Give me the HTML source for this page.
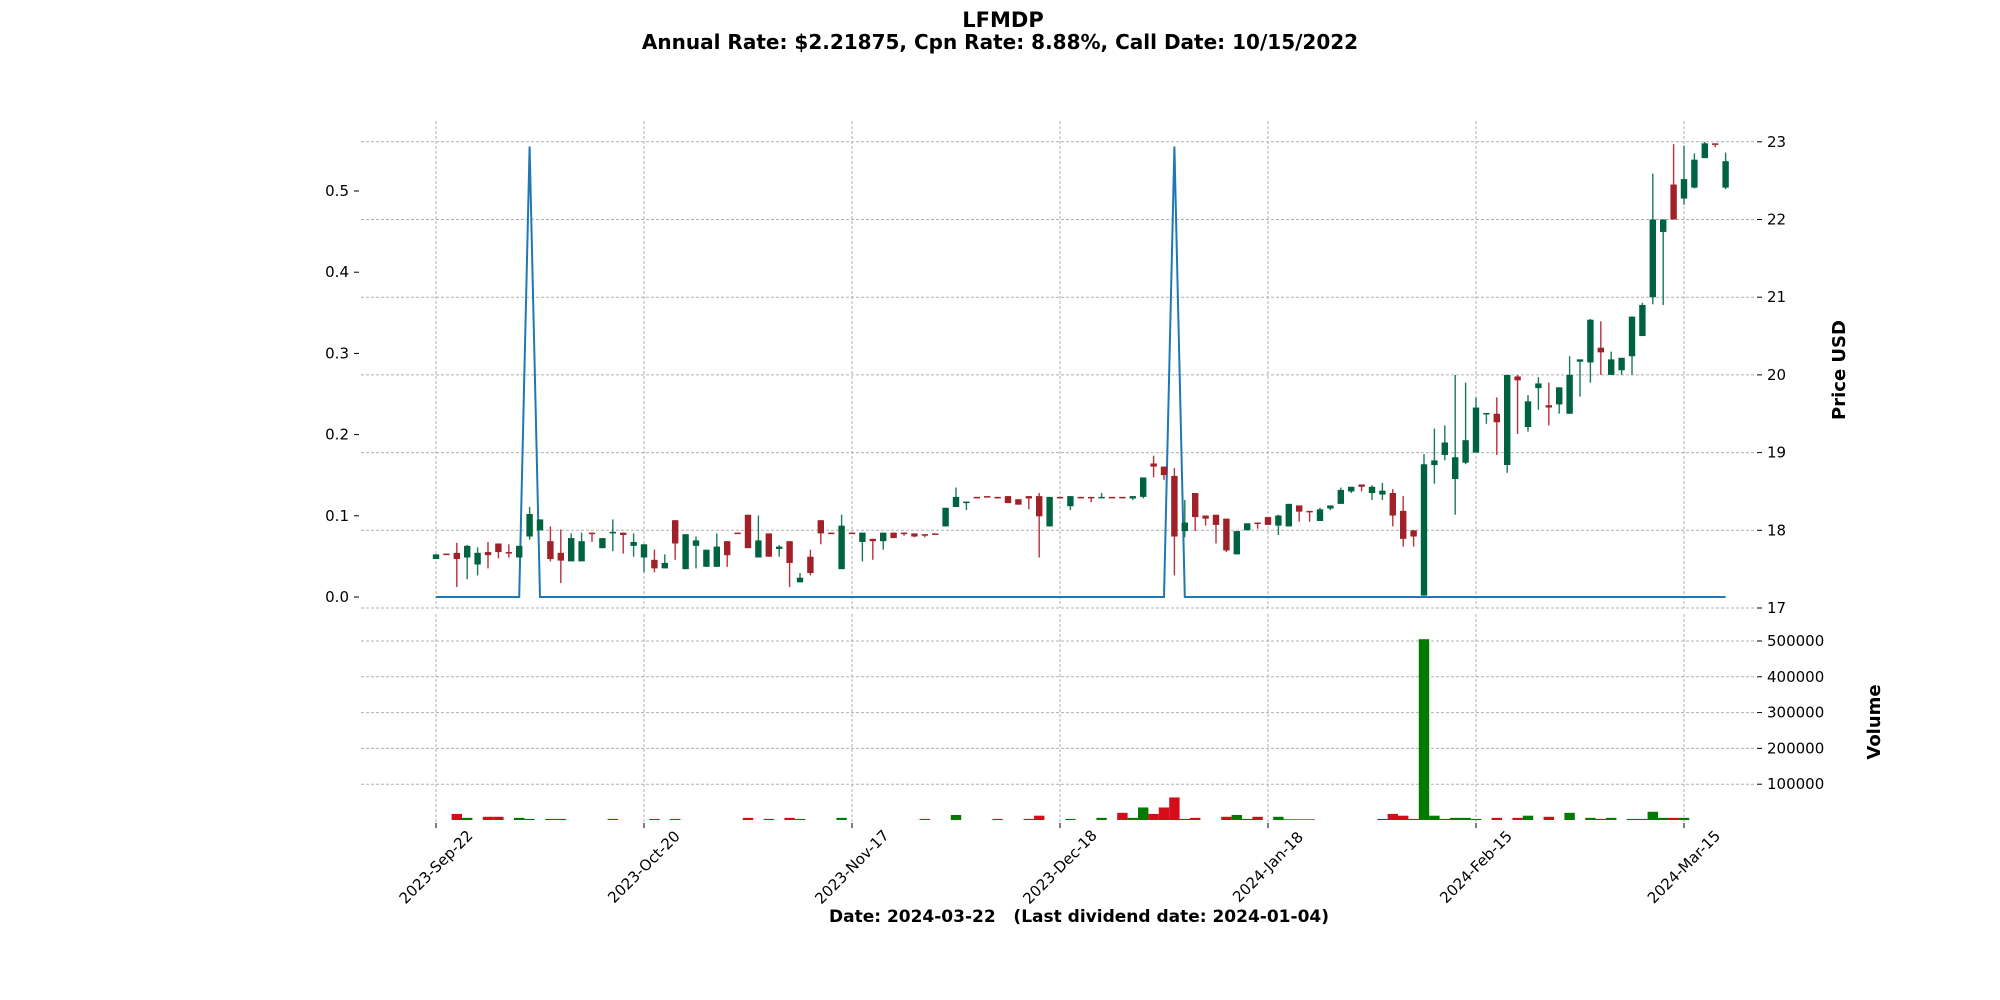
<!DOCTYPE html>
<html><head><meta charset="utf-8"><title>LFMDP</title>
<style>
html,body{margin:0;padding:0;background:#fff;}
svg{display:block;font-family:"DejaVu Sans","Liberation Sans",sans-serif;}
</style></head>
<body>
<svg id="chart" width="2000" height="1000" viewBox="0 0 2000 1000" xmlns="http://www.w3.org/2000/svg">
  <rect width="2000" height="1000" fill="#ffffff"/>
  <text x="1003" y="27" text-anchor="middle" font-size="21" font-weight="bold">LFMDP</text>
  <text x="1000" y="49" text-anchor="middle" font-size="20" font-weight="bold">Annual Rate: $2.21875, Cpn Rate: 8.88%, Call Date: 10/15/2022</text>
  <g id="grid"></g>
  <g id="divs"></g>
  <g id="candles"></g>
  <g id="vols"></g>
  <g id="axes"></g>
  <text transform="translate(1845,370) rotate(-90)" text-anchor="middle" font-size="18" font-weight="bold">Price USD</text>
  <text transform="translate(1880,722) rotate(-90)" text-anchor="middle" font-size="18" font-weight="bold">Volume</text>
  <text x="1079" y="922" text-anchor="middle" font-size="17" font-weight="bold" xml:space="preserve">Date: 2024-03-22   (Last dividend date: 2024-01-04)</text>
</svg>
<script>
const opens=[17.63,17.70,17.71,17.65,17.56,17.72,17.83,17.72,17.65,17.92,
18.00,17.86,17.71,17.60,17.60,17.97,17.77,17.96,17.97,17.80,
17.65,17.62,17.51,18.13,17.50,17.80,17.53,17.53,17.86,17.97,
18.20,17.65,17.96,17.76,17.86,17.33,17.66,18.13,17.97,17.50,
17.97,17.85,17.89,17.86,17.97,17.97,17.96,17.95,17.96,18.05,
18.30,18.35,18.43,18.44,18.43,18.44,18.40,18.44,18.44,18.05,
18.43,18.31,18.43,18.43,18.43,18.43,18.43,18.41,18.43,18.86,
18.82,18.70,17.99,18.48,18.19,18.20,18.15,17.69,18.00,18.10,
18.17,18.06,18.05,18.32,18.25,18.12,18.28,18.34,18.50,18.59,
18.48,18.46,18.48,18.25,18.00,17.16,18.84,18.97,18.66,18.87,
19.00,19.50,19.50,18.84,19.98,19.33,19.83,19.61,19.62,19.50,
20.17,20.16,20.35,20.00,20.06,20.24,20.50,21.00,21.84,22.45,
22.27,22.41,22.79,22.98,22.41];
const highs=[17.69,17.70,17.84,17.81,17.78,17.85,17.83,17.82,17.80,18.30,
18.14,18.05,18.01,17.96,17.97,17.97,17.90,18.14,17.97,17.96,
17.82,17.75,17.69,18.13,17.95,17.92,17.75,17.96,17.86,17.97,
18.20,18.19,17.96,17.81,17.86,17.45,17.75,18.13,17.97,18.20,
17.97,17.97,17.89,17.97,17.97,17.97,17.96,17.95,17.96,18.29,
18.55,18.37,18.43,18.44,18.43,18.44,18.40,18.44,18.48,18.43,
18.43,18.44,18.43,18.43,18.48,18.43,18.43,18.44,18.68,18.96,
18.82,18.80,18.39,18.48,18.19,18.20,18.15,17.99,18.09,18.10,
18.17,18.20,18.34,18.32,18.25,18.29,18.32,18.55,18.56,18.59,
18.58,18.61,18.53,18.44,18.00,18.98,19.31,19.35,20.00,19.90,
19.71,19.51,19.71,20.00,20.00,19.74,19.97,19.90,19.84,20.24,
20.20,20.72,20.69,20.30,20.22,20.75,20.93,22.59,22.00,22.97,
22.95,22.85,23.00,22.98,22.86];
const lows=[17.63,17.69,17.27,17.37,17.42,17.51,17.64,17.65,17.65,17.88,
18.00,17.60,17.32,17.60,17.60,17.85,17.77,17.73,17.70,17.66,
17.46,17.46,17.51,17.62,17.50,17.51,17.53,17.53,17.53,17.96,
17.77,17.65,17.66,17.66,17.27,17.33,17.42,17.82,17.96,17.50,
17.96,17.60,17.62,17.75,17.90,17.93,17.91,17.91,17.95,18.05,
18.30,18.26,18.42,18.43,18.41,18.35,18.33,18.27,17.65,18.05,
18.41,18.26,18.41,18.36,18.42,18.42,18.42,18.39,18.41,18.68,
18.65,17.42,17.91,17.99,18.06,17.83,17.72,17.69,18.00,18.02,
18.07,17.94,18.05,18.11,18.11,18.12,18.26,18.34,18.48,18.50,
18.39,18.39,18.05,17.79,17.79,17.16,18.60,18.90,18.20,18.85,
19.00,19.37,18.97,18.74,19.24,19.27,19.55,19.35,19.50,19.50,
19.72,19.90,20.00,20.00,20.00,20.00,20.50,20.91,20.90,22.00,
22.19,22.40,22.79,22.93,22.39];
const closes=[17.69,17.69,17.63,17.80,17.71,17.68,17.72,17.71,17.80,18.21,
18.14,17.63,17.61,17.90,17.86,17.96,17.90,17.98,17.94,17.85,
17.82,17.51,17.58,17.83,17.95,17.87,17.75,17.79,17.68,17.96,
17.77,17.87,17.66,17.79,17.58,17.39,17.45,17.96,17.96,18.06,
17.96,17.97,17.86,17.97,17.90,17.96,17.92,17.94,17.95,18.29,
18.43,18.37,18.42,18.43,18.42,18.35,18.33,18.41,18.18,18.43,
18.42,18.44,18.42,18.42,18.43,18.42,18.42,18.44,18.68,18.82,
18.71,17.92,18.10,18.17,18.15,18.07,17.74,17.99,18.09,18.09,
18.07,18.19,18.34,18.24,18.24,18.27,18.32,18.52,18.56,18.56,
18.56,18.51,18.19,17.89,17.92,18.85,18.90,19.13,18.94,19.16,
19.58,19.51,19.39,20.00,19.93,19.66,19.89,19.58,19.84,20.00,
20.20,20.71,20.29,20.20,20.22,20.75,20.90,22.00,22.00,22.00,
22.52,22.77,22.98,22.97,22.75];
const volumesK=[0,0,17,6,0,9,9,0,6,3,
0,3,3,0,0,0,0,3,0,0,
0,3,0,3,0,0,0,0,0,0,
6,0,3,0,6,3,0,0,0,6,
0,0,0,0,0,0,0,3,0,0,
14,0,0,0,3,0,0,3,12,0,
0,3,0,0,6,0,20,6,35,17,
35,63,3,6,0,0,9,14,3,9,
0,9,2,2,2,0,0,0,0,0,
0,3,17,12,3,505,12,3,6,6,
3,0,6,0,6,12,0,9,0,20,
0,6,3,6,0,3,3,23,6,6,
6,0,0,0,0];
const dividends=[0,0,0,0,0,0,0,0,0,0.5547,0,0,0,0,0,0,0,0,0,0,0,0,0,0,0,
0,0,0,0,0,0,0,0,0,0,0,0,0,0,0,0,0,0,0,0,0,0,0,0,0,
0,0,0,0,0,0,0,0,0,0,0,0,0,0,0,0,0,0,0,0,0,0.5547,0,0,0,
0,0,0,0,0,0,0,0,0,0,0,0,0,0,0,0,0,0,0,0,0,0,0,0,0,
0,0,0,0,0,0,0,0,0,0,0,0,0,0,0,0,0,0,0,0,0,0,0,0,0];
const dateTickIdx=[0,20,40,60,80,100,120];
const dateTickLabels=["2023-Sep-22","2023-Oct-20","2023-Nov-17","2023-Dec-18","2024-Jan-18","2024-Feb-15","2024-Mar-15"];
const priceTicks=[17,18,19,20,21,22,23];
const divTicks=[0.0,0.1,0.2,0.3,0.4,0.5];
const volTicks=[100000,200000,300000,400000,500000];

const NS="http://www.w3.org/2000/svg";
function xOf(i){return 436+i*10.4;}
function yP(p){return 608-(p-17)*77.7;}
function yD(d){return 597-d*812;}
function yV(v){return 820-v*0.000358;}
function mk(tag,attrs,parent){const e=document.createElementNS(NS,tag);for(const k in attrs)e.setAttribute(k,attrs[k]);parent.appendChild(e);return e;}
const grid=document.getElementById('grid'),axes=document.getElementById('axes');
const PL=361,PR=1756;
priceTicks.forEach(function(t){
  const y=yP(t);
  const l=mk('line',{x1:PL,x2:PR,y1:y,y2:y,stroke:'#b0b0b0','stroke-width':1,'stroke-dasharray':'3,2'},grid);
  
  
  const tk=mk('line',{x1:1757,x2:1762,y1:y,y2:y,stroke:'#000','stroke-width':1},axes);
  
  
  const tx=mk('text',{x:1767,y:y+5,'font-size':15},axes);tx.textContent=String(t);
  
  
});
volTicks.forEach(function(t){
  const y=yV(t);
  const l=mk('line',{x1:PL,x2:PR,y1:y,y2:y,stroke:'#b0b0b0','stroke-width':1,'stroke-dasharray':'3,2'},grid);
  
  
  const tk=mk('line',{x1:1757,x2:1762,y1:y,y2:y,stroke:'#000','stroke-width':1},axes);
  
  
  const tx=mk('text',{x:1767,y:y+5,'font-size':15},axes);tx.textContent=String(t);
  
  
});
divTicks.forEach(function(t){
  const y=yD(t);
  const tk=mk('line',{x1:354,x2:359,y1:y,y2:y,stroke:'#000','stroke-width':1},axes);
  
  
  const tx=mk('text',{x:349,y:y+5,'font-size':15,'text-anchor':'end'},axes);tx.textContent=t.toFixed(1);
  
  
});
dateTickIdx.forEach(function(idx,k){
  const x=xOf(idx);
  const g1=mk('line',{x1:x,x2:x,y1:121,y2:608,stroke:'#b0b0b0','stroke-width':1,'stroke-dasharray':'3,2'},grid);
  
  
  const g2=mk('line',{x1:x,x2:x,y1:614,y2:823,stroke:'#b0b0b0','stroke-width':1,'stroke-dasharray':'3,2'},grid);
  
  
  const tk=mk('line',{x1:x,x2:x,y1:823,y2:828,stroke:'#000','stroke-width':1},axes);
  
  
  const tx=mk('text',{x:x,y:872,'font-size':15,'text-anchor':'middle',transform:'rotate(-45 '+x+' 867)'},axes);
  tx.textContent=dateTickLabels[k];
  
  
});
const dg=document.getElementById('divs');
let pts=dividends.map(function(d,i){return xOf(i)+','+yD(d);}).join(' ');
const pl=mk('polyline',{points:pts,fill:'none',stroke:'#1f77b4','stroke-width':2},dg);


const cg=document.getElementById('candles'),vg=document.getElementById('vols');
opens.forEach(function(o,i){
  const c=closes[i],up=c>=o;
  const col=up?'#006340':'#a02128';
  const x=xOf(i);
  const w=mk('line',{x1:x,x2:x,y1:yP(highs[i]),y2:yP(lows[i]),stroke:up?'#1a7a55':'#b8323c','stroke-width':1.4},cg);
  
  
  const top=yP(Math.max(o,c)),bot=yP(Math.min(o,c));
  const b=mk('rect',{x:x-3.2,y:top,width:6.4,height:Math.max(bot-top,1.5),fill:col},cg);
  
  
  const v=volumesK[i]*1000;
  if(v>0){
    const r=mk('rect',{x:x-5.2,y:yV(v),width:10.4,height:820-yV(v),fill:up?'#007a00':'#d50d18'},vg);
    
    
  }
});
</script>
</body></html>
